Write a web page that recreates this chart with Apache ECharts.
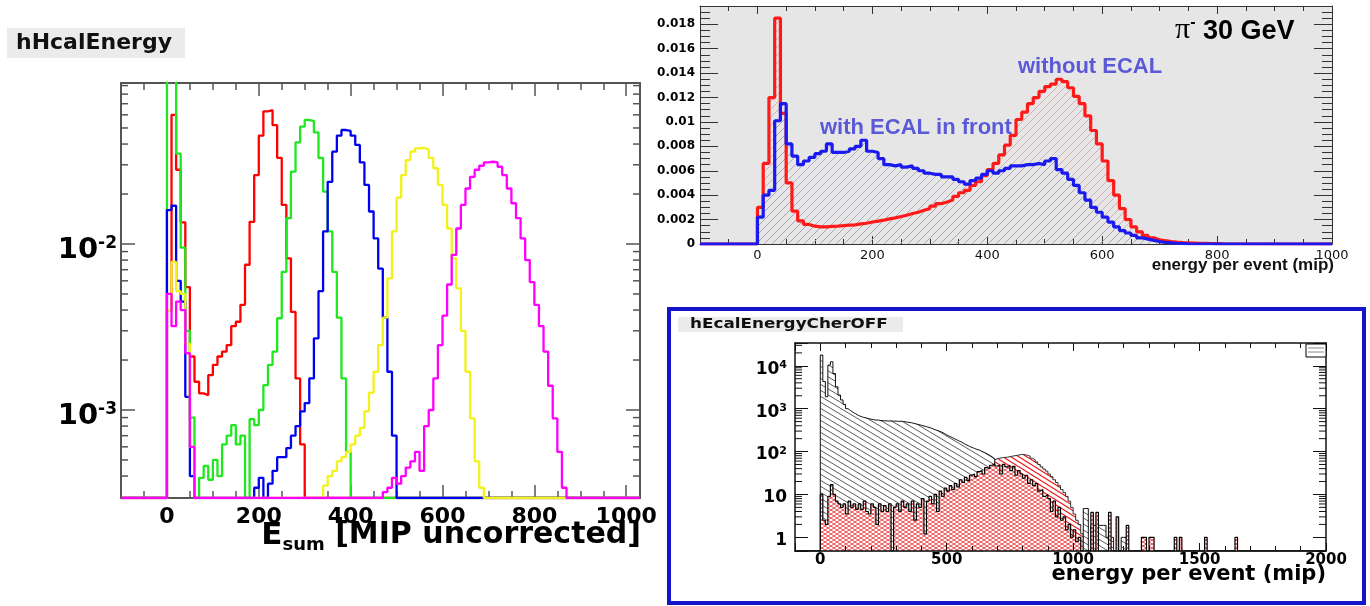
<!DOCTYPE html>
<html>
<head>
<meta charset="utf-8">
<title>HCAL / ECAL energy</title>
<script src="https://cdn.jsdelivr.net/npm/echarts@6.0.0/dist/echarts.min.js"></script>
<style>
  html, body { margin: 0; padding: 0; background: #fff; }
  #main { width: 1370px; height: 606px; }
</style>
</head>
<body>
<div id="main"></div>
<script>
const BIN = 10;

// left: hHcalEnergy, log y, bins of 10 MIP (lower edges)
const hcalRange = [-100, 1030];
const hcalYRange = [2.95e-4, 0.0933];
const hcalRed = [0.004, 0.060, 0.028, 0.0135, 0.0055, 0.0021, 0.00148, 0.00126, 0.00123, 0.00162, 0.00187, 0.0021, 0.00225, 0.00246, 0.0032, 0.0034, 0.0043, 0.0075, 0.0136, 0.026, 0.045, 0.063, 0.064, 0.052, 0.033, 0.0172, 0.0082, 0.0039, 0.00155, 0.00062];
const hcalGreen = [0.1, 0.1, 0.035, 0.0095, 0.003, 0.0009, 0, 0.00039, 0.00046, 0.00038, 0.0005, 0.0004, 0.00062, 0.0007, 0.00081, 0.00062, 0.0007, 0, 0.00088, 0.00081, 0.001, 0.00141, 0.00187, 0.00225, 0.00357, 0.0068, 0.0143, 0.0273, 0.041, 0.051, 0.056, 0.055, 0.047, 0.033, 0.0207, 0.0119, 0.0068, 0.0036, 0.00155, 0.00056];
const hcalBlueLow = [0.016, 0.017, 0.006, 0.0045, 0.0012, 0.0004];
const hcalBluePeakStart = 190;
const hcalBluePeak = [0.00034, 0.00039, 0, 0.00036, 0.00043, 0.00052, 0.00052, 0.00059, 0.0007, 0.0008, 0.00098, 0.0011, 0.00155, 0.0027, 0.0052, 0.0119, 0.0237, 0.036, 0.045, 0.0486, 0.048, 0.045, 0.0395, 0.031, 0.0227, 0.0157, 0.0108, 0.0071, 0.0036, 0.0017, 0.0007];
const hcalYellowLow = [0.004, 0.0078, 0.0052, 0.005, 0.0025, 0.0006];
const hcalYellowPeakStart = 340;
const hcalYellowPeak = [0.00035, 0.0004, 0.00043, 0.00049, 0.00052, 0.00056, 0.00062, 0.0007, 0.00078, 0.00098, 0.00127, 0.0017, 0.00246, 0.0036, 0.0062, 0.0119, 0.019, 0.026, 0.032, 0.036, 0.0377, 0.038, 0.037, 0.033, 0.0286, 0.0227, 0.0172, 0.0124, 0.0082, 0.0054, 0.003, 0.0017, 0.00089, 0.00049, 0.00034];
const hcalMagentaLow = [0.005, 0.0032, 0.0045, 0.004, 0.0022, 0.0006];
const hcalMagentaPeakStart = 470;
const hcalMagentaPeak = [0.00032, 0.00034, 0.00039, 0.00036, 0.0004, 0.00045, 0.00049, 0.00056, 0.00043, 0.0008, 0.001, 0.00155, 0.00246, 0.0037, 0.0057, 0.0086, 0.0124, 0.0172, 0.0216, 0.0254, 0.028, 0.0296, 0.031, 0.0313, 0.031, 0.0292, 0.026, 0.0216, 0.0176, 0.0143, 0.0108, 0.008, 0.0059, 0.0043, 0.0032, 0.00225, 0.0014, 0.00089, 0.00056, 0.00034];
const hcalMinor = [4e-4, 5e-4, 6e-4, 7e-4, 8e-4, 9e-4, 2e-3, 3e-3, 4e-3, 5e-3, 6e-3, 7e-3, 8e-3, 9e-3, 2e-2, 3e-2, 4e-2, 5e-2, 6e-2, 7e-2, 8e-2, 9e-2];

// top right: pi- 30 GeV, linear y, from 0
const pionRange = [-100, 1000];
const pionYRange = [0, 0.0195];
const pionNoEcal = [0.003, 0.0066, 0.012, 0.0185, 0.0107, 0.005, 0.0027, 0.0019, 0.0016, 0.00146, 0.0014, 0.0014, 0.00144, 0.00146, 0.0015, 0.00155, 0.00157, 0.00165, 0.0017, 0.0018, 0.00187, 0.00195, 0.00206, 0.00214, 0.00225, 0.00236, 0.0025, 0.0026, 0.00276, 0.0029, 0.0031, 0.0033, 0.00344, 0.0036, 0.0039, 0.0042, 0.0044, 0.0048, 0.0051, 0.0056, 0.0061, 0.0066, 0.0073, 0.0081, 0.0089, 0.0102, 0.0108, 0.0115, 0.012, 0.0125, 0.0129, 0.0131, 0.0135, 0.0133, 0.0128, 0.0121, 0.0115, 0.0105, 0.0093, 0.0082, 0.0068, 0.0052, 0.004, 0.0029, 0.002, 0.0014, 0.001, 0.0007, 0.0005, 0.00035, 0.00027, 0.0002, 0.00015, 0.00012, 0.0001, 0.00008, 0.00006, 0.00005, 0.00004, 0.00003, 0.00002];
const pionWithEcal = [0.0022, 0.004, 0.0044, 0.0101, 0.0115, 0.0082, 0.0072, 0.0065, 0.0068, 0.0071, 0.0074, 0.0076, 0.0082, 0.0075, 0.0075, 0.0076, 0.0078, 0.008, 0.0085, 0.0076, 0.0075, 0.007, 0.0065, 0.0064, 0.0065, 0.0063, 0.0064, 0.0062, 0.006, 0.0058, 0.0057, 0.0057, 0.0055, 0.0055, 0.0053, 0.0051, 0.0049, 0.0052, 0.0054, 0.0057, 0.006, 0.0058, 0.006, 0.0062, 0.0064, 0.0064, 0.0065, 0.0065, 0.0066, 0.0065, 0.0068, 0.007, 0.0061, 0.0058, 0.0053, 0.0048, 0.0042, 0.0036, 0.003, 0.0026, 0.0022, 0.0018, 0.0014, 0.0011, 0.0009, 0.0007, 0.0005, 0.0004, 0.0003, 0.0002, 0.00014, 0.0001, 0.00006, 0.00004, 0.00002];

// bottom right: hEcalEnergyCherOFF, log y (counts)
const ecalRange = [-100, 2000];
const ecalYRange = [0.48, 34000];
const ecalAll = [17800, 4300, 1900, 10400, 12400, 6600, 3240, 2080, 1600, 1260, 1000, 900, 820, 760, 700, 660, 630, 610, 590, 570, 555, 545, 540, 530, 525, 520, 515, 520, 510, 515, 505, 510, 500, 490, 480, 470, 455, 440, 425, 410, 395, 380, 365, 350, 330, 315, 300, 285, 265, 245, 228, 215, 200, 188, 175, 165, 152, 142, 132, 125, 118, 112, 108, 100, 95, 88, 82, 75, 68];
const ecalAllTail = [[1040, 4.7], [1050, 4.7], [1070, 1.9], [1080, 1.9], [1090, 1.9], [1100, 1.9], [1110, 1.9], [1120, 1.9], [1130, 1], [1140, 1], [1150, 1], [1190, 1], [1200, 1]];
const ecalPeakStart = 650;
const ecalPeak = [50, 55, 60, 64, 68, 70, 72, 73, 74, 76, 78, 80, 82, 84, 86, 84, 82, 78, 70, 64, 57, 50, 44, 39, 35, 30, 26, 22, 19, 16, 13, 11, 9, 7, 5, 3.5, 2.5, 2, 1.2];
const ecalSub = [10, 2.5, 2, 9, 17, 10, 7, 6, 5, 6, 3.5, 7, 5, 6, 4.5, 6, 4.5, 7, 4, 3.5, 6, 5, 2, 6, 4, 5.5, 4, 6, 0, 5, 6, 4, 7, 5, 6, 4, 7, 2.5, 6, 5, 8, 1.2, 7, 9, 6, 10, 4, 12, 9, 14, 12, 16, 13, 18, 15, 22, 19, 25, 21, 28, 30, 26, 34, 36, 30, 42, 40, 48, 52, 46, 48, 30, 50, 44, 48, 36, 45, 28, 36, 30, 24, 28, 18, 22, 16, 18, 12, 13, 9, 10, 8, 4, 7, 3, 5, 2.5, 3, 1.5, 2, 1, 1.5, 0.8, 1];
const ecalSubTail = [[1070, 3.8], [1090, 3.8], [1140, 3.8], [1170, 3], [1210, 1.9], [1270, 1], [1280, 1], [1300, 1], [1310, 1], [1400, 1], [1420, 1], [1520, 1], [1640, 1]];
const ecalMinor = [2, 3, 4, 5, 6, 7, 8, 9, 20, 30, 40, 50, 60, 70, 80, 90, 200, 300, 400, 500, 600, 700, 800, 900, 2000, 3000, 4000, 5000, 6000, 7000, 8000, 9000, 20000, 30000];

const FONT = 'DejaVu Sans';
const ARIAL = 'Liberation Sans';

function bins(start, vals) {
  return vals.map((v, i) => [start + i * BIN, v]);
}

// histogram bins -> step points, empty bins sit on the floor
function steps(list, floor, range) {
  const pts = [[range[0], floor]];
  let end = null;
  list.forEach(([x, v]) => {
    if (end !== null && x > end) pts.push([end, floor]);
    pts.push([x, v > 0 ? v : floor]);
    end = x + BIN;
  });
  pts.push([end, floor], [range[1], floor]);
  return pts;
}

function hatch(w, h, color, lw, dirs, bg) {
  const c = document.createElement('canvas');
  c.width = w; c.height = h;
  const g = c.getContext('2d');
  if (bg) { g.fillStyle = bg; g.fillRect(0, 0, w, h); }
  g.strokeStyle = color;
  g.lineWidth = lw;
  g.beginPath();
  for (let k = -1; k <= 1; k++) {
    if (dirs.indexOf('/') >= 0) { g.moveTo(k * w - w, 2 * h); g.lineTo(k * w + 2 * w, -h); }
    if (dirs.indexOf('\\') >= 0) { g.moveTo(k * w - w, -h); g.lineTo(k * w + 2 * w, 2 * h); }
  }
  g.stroke();
  return { image: c, repeat: 'repeat' };
}

function powLabel(v) {
  const l = Math.log10(v), e = Math.round(l);
  if (Math.abs(l - e) > 1e-6) return '';
  if (e === 0) return '{b|1}';
  if (e === 1) return '{b|10}';
  return '{b|10}{s|' + e + '}';
}

function xAxes(gi, range, c) {
  const out = [];
  ['bottom', 'top'].forEach(pos => {
    const bottom = pos === 'bottom';
    out.push({
      type: 'value', gridIndex: gi, position: pos, min: range[0], max: range[1], splitNumber: c.split, z: c.z || 0,
      axisLine: { show: true, onZero: false, lineStyle: { color: c.color, width: c.width } },
      axisTick: { inside: true, length: c.major, lineStyle: { color: c.color, width: c.tickW } },
      splitLine: { show: false },
      axisLabel: bottom ? Object.assign({ show: true }, c.label) : { show: false }
    });
    out.push({
      type: 'value', gridIndex: gi, position: pos, min: range[0], max: range[1], interval: c.minorStep, z: c.z || 0,
      axisLine: { show: false, onZero: false },
      axisTick: { inside: true, length: c.minor, lineStyle: { color: c.color, width: c.tickW } },
      splitLine: { show: false }, axisLabel: { show: false }
    });
  });
  return out;
}

function logY(gi, range, pos, c, label) {
  return {
    type: 'log', logBase: 10, gridIndex: gi, position: pos, min: range[0], max: range[1], z: c.z || 0,
    axisLine: { show: true, onZero: false, lineStyle: { color: c.color, width: c.width } },
    axisTick: { inside: true, length: c.major, lineStyle: { color: c.color, width: c.tickW } },
    splitLine: { show: false },
    axisLabel: label || { show: false }
  };
}

function minorLog(xi, yi, vals, range, len, color, width) {
  return {
    type: 'custom', xAxisIndex: xi, yAxisIndex: yi, silent: true, z: 6,
    data: vals.map(v => [range[0], v]),
    renderItem: (params, api) => {
      const v = api.value(1);
      const a = api.coord([range[0], v]), b = api.coord([range[1], v]);
      const st = { stroke: color, lineWidth: width };
      return { type: 'group', children: [
        { type: 'line', shape: { x1: a[0], y1: a[1], x2: a[0] + len, y2: a[1] }, style: st },
        { type: 'line', shape: { x1: b[0], y1: b[1], x2: b[0] - len, y2: b[1] }, style: st }
      ] };
    }
  };
}

function histLine(data, color, width, xi, yi, extra) {
  return Object.assign({
    type: 'line', data, step: 'end', symbol: 'none', showSymbol: false, silent: true,
    xAxisIndex: xi, yAxisIndex: yi, clip: true,
    lineStyle: { color, width }, itemStyle: { color }
  }, extra || {});
}

function text(x, y, str, font, color, align, vAlign, scaleX, rich) {
  return {
    type: 'text', x, y, scaleX: scaleX || 1, silent: true, z: 100,
    style: { text: str, x: 0, y: 0, font, fill: color, textAlign: align, textVerticalAlign: vAlign, align, verticalAlign: vAlign, rich }
  };
}

// left panel curves
const hFloor = hcalYRange[0];
const hRed = steps(bins(0, hcalRed), hFloor, hcalRange);
const hGreen = steps(bins(0, hcalGreen), hFloor, hcalRange);
const hBlue = steps(bins(0, hcalBlueLow).concat(bins(hcalBluePeakStart, hcalBluePeak)), hFloor, hcalRange);
const hYellow = steps(bins(0, hcalYellowLow).concat(bins(hcalYellowPeakStart, hcalYellowPeak)), hFloor, hcalRange);
const hMagenta = steps(bins(0, hcalMagentaLow).concat(bins(hcalMagentaPeakStart, hcalMagentaPeak)), hFloor, hcalRange);

// top right
const pRed = steps(bins(0, pionNoEcal), 0, pionRange);
const pBlue = steps(bins(0, pionWithEcal), 0, pionRange);

// bottom right
const eFloor = ecalYRange[0];
const eAll = steps(bins(0, ecalAll).concat(ecalAllTail), eFloor, ecalRange);
const ePeak = steps(bins(ecalPeakStart, ecalPeak), eFloor, ecalRange);
const eSub = steps(bins(0, ecalSub).concat(ecalSubTail), eFloor, ecalRange);

const L = { color: '#555', width: 2, tickW: 1.5, major: 13, minor: 7, split: 5, minorStep: 50,
  label: { margin: 8, color: '#000', fontFamily: FONT, fontWeight: 'bold', fontSize: 22,
    formatter: v => (v % 200 === 0 ? String(v) : '') } };
const LY = { color: '#555', width: 2, tickW: 1.5, major: 14 };
const T = { color: '#333', width: 1, tickW: 1, major: 8, minor: 5, split: 5, minorStep: 50,
  label: { margin: 5, color: '#111', fontFamily: FONT, fontSize: 13,
    formatter: v => (v % 200 === 0 ? String(v) : '') } };
const B = { color: '#111', width: 1.5, tickW: 1, major: 8, minor: 5, split: 4, minorStep: 100, z: 8,
  label: { margin: 2, color: '#000', fontFamily: FONT, fontWeight: 'bold', fontSize: 15,
    formatter: v => (v % 500 === 0 ? String(v) : '') } };
const BY = { color: '#111', width: 1.5, tickW: 1, major: 13, z: 8 };

function tyAxis(pos, interval, len, labels) {
  return {
    type: 'value', gridIndex: 1, position: pos, min: pionYRange[0], max: pionYRange[1], interval,
    axisLine: { show: labels !== null, onZero: false, lineStyle: { color: '#333', width: 1 } },
    axisTick: { inside: true, length: len, lineStyle: { color: '#333', width: 1 } },
    splitLine: { show: false },
    axisLabel: labels || { show: false }
  };
}

const tyLabel = { margin: 5, color: '#000', fontFamily: FONT, fontWeight: 'bold', fontSize: 12,
  formatter: v => { const k = v / 0.002; return Math.abs(k - Math.round(k)) < 1e-6 ? String(+v.toFixed(3)) : ''; } };

const chart = echarts.init(document.getElementById('main'));
chart.setOption({
  animation: false,
  backgroundColor: '#fff',
  grid: [
    { left: 121, top: 83, width: 519, height: 415 },
    { left: 700, top: 6, width: 632, height: 238, show: true, backgroundColor: '#e6e6e6', borderWidth: 0 },
    { left: 795, top: 343, width: 531, height: 208 }
  ],
  xAxis: [].concat(xAxes(0, hcalRange, L), xAxes(1, pionRange, T), xAxes(2, ecalRange, B)),
  yAxis: [
    logY(0, hcalYRange, 'left', LY, {
      margin: 4, formatter: powLabel, padding: [12, 0, 0, 0],
      rich: {
        b: { fontFamily: FONT, fontWeight: 'bold', fontSize: 29, color: '#000', lineHeight: 30, verticalAlign: 'bottom' },
        s: { fontFamily: FONT, fontWeight: 'bold', fontSize: 17, color: '#000', lineHeight: 16, verticalAlign: 'top' }
      }
    }),
    logY(0, hcalYRange, 'right', LY),
    tyAxis('left', 0.002, 18, tyLabel),
    tyAxis('left', 0.0005, 10, null),
    tyAxis('right', 0.002, 18, { show: false }),
    tyAxis('right', 0.0005, 10, null),
    logY(2, ecalYRange, 'left', BY, {
      margin: 8, formatter: powLabel, padding: [6, 0, 0, 0],
      rich: {
        b: { fontFamily: FONT, fontWeight: 'bold', fontSize: 17, color: '#000', lineHeight: 18, verticalAlign: 'bottom' },
        s: { fontFamily: FONT, fontWeight: 'bold', fontSize: 11, color: '#000', lineHeight: 11, verticalAlign: 'top' }
      }
    }),
    logY(2, ecalYRange, 'right', BY)
  ],
  series: [
    // left
    histLine(hRed, '#ff0000', 2.3, 0, 0),
    histLine(hGreen, '#1fe81f', 2.3, 0, 0),
    histLine(hBlue, '#0000f0', 2.3, 0, 0),
    histLine(hYellow, '#f2f21a', 2.3, 0, 0),
    histLine(hMagenta, '#ff00ff', 2.3, 0, 0),
    minorLog(0, 0, hcalMinor, hcalRange, 7, '#555', 1.5),
    // top right: hatched areas then outlines
    histLine(pRed, '#ff1a1a', 0, 4, 2, { areaStyle: { color: hatch(8, 8, 'rgba(205,165,170,0.85)', 1, '/'), opacity: 1, origin: 'start' } }),
    histLine(pBlue, '#1a1aff', 0, 4, 2, { areaStyle: { color: hatch(8, 8, 'rgba(160,160,178,0.8)', 1, '/'), opacity: 1, origin: 'start' } }),
    histLine(pRed, '#ff1a1a', 3.2, 4, 2, { z: 3 }),
    histLine(pBlue, '#1a1af0', 3.2, 4, 2, { z: 4 }),
    // bottom right: each histogram on its own layer so later fills hide earlier outlines
    histLine(ePeak, '#333', 1, 8, 6, { z: 2, areaStyle: { color: hatch(8, 5, '#ee1c1c', 1.1, '\\', '#fff'), opacity: 1, origin: 'start' } }),
    histLine(eAll, '#111', 1, 8, 6, { z: 3, areaStyle: { color: hatch(10, 6, '#333', 0.8, '\\', '#fff'), opacity: 1, origin: 'start' } }),
    histLine(eSub, '#000', 1.2, 8, 6, { z: 4, areaStyle: { color: hatch(6, 4, '#e83a3a', 0.9, '/\\', '#fff'), opacity: 1, origin: 'start' } }),
    minorLog(8, 6, ecalMinor, ecalRange, 7, '#111', 1)
  ],
  graphic: [
    // left panel title and axis title
    { type: 'rect', shape: { x: 7, y: 28, width: 178, height: 30 }, style: { fill: '#ebebeb' }, silent: true },
    text(16, 43, 'hHcalEnergy', 'bold 22px "DejaVu Sans"', '#111', 'left', 'middle'),
    text(641, 537, '{e|E}{u|sum}{t| [MIP uncorrected]}', 'bold 30px "DejaVu Sans"', '#000', 'right', 'middle', 1, {
      e: { fontFamily: FONT, fontWeight: 'bold', fontSize: 31, lineHeight: 34, verticalAlign: 'top' },
      u: { fontFamily: FONT, fontWeight: 'bold', fontSize: 18, lineHeight: 18, verticalAlign: 'bottom' },
      t: { fontFamily: FONT, fontWeight: 'bold', fontSize: 30, lineHeight: 34, verticalAlign: 'top' }
    }),
    // top right annotations
    text(1175, 30, '{p|π}{m|-}{g| 30 GeV}', 'bold 26px "Liberation Sans"', '#000', 'left', 'middle', 1, {
      p: { fontFamily: 'Liberation Serif', fontSize: 30, lineHeight: 30, verticalAlign: 'bottom', color: '#000' },
      m: { fontFamily: ARIAL, fontWeight: 'bold', fontSize: 16, lineHeight: 14, verticalAlign: 'top', color: '#000' },
      g: { fontFamily: ARIAL, fontWeight: 'bold', fontSize: 27, lineHeight: 30, verticalAlign: 'bottom', color: '#000' }
    }),
    text(1018, 67, 'without ECAL', 'bold 22px "Liberation Sans"', '#5a5ad8', 'left', 'middle'),
    text(820, 128, 'with ECAL in front', 'bold 22px "Liberation Sans"', '#5a5ad8', 'left', 'middle'),
    text(1334, 265, 'energy per event (mip)', 'bold 17px "Liberation Sans"', '#111', 'right', 'middle'),
    // bottom right frame, title, stats box, axis title
    { type: 'rect', shape: { x: 669, y: 309, width: 695, height: 294 }, style: { fill: null, stroke: '#1414c8', lineWidth: 4 }, silent: true },
    { type: 'rect', shape: { x: 678, y: 317, width: 225, height: 15 }, style: { fill: '#ebebeb' }, silent: true },
    text(690, 324.5, 'hEcalEnergyCherOFF', 'bold 14px "DejaVu Sans"', '#111', 'left', 'middle', 1.2),
    { type: 'rect', z: 100, shape: { x: 1306, y: 344, width: 20, height: 13 }, style: { fill: '#fff', stroke: '#000', lineWidth: 1 }, silent: true },
    { type: 'line', z: 101, shape: { x1: 1308, y1: 348, x2: 1324, y2: 348 }, style: { stroke: '#888', lineWidth: 1 }, silent: true },
    { type: 'line', z: 101, shape: { x1: 1308, y1: 352, x2: 1324, y2: 352 }, style: { stroke: '#888', lineWidth: 1 }, silent: true },
    text(1326, 575, 'energy per event (mip)', 'bold 21px "DejaVu Sans"', '#000', 'right', 'middle')
  ]
});
</script>
</body>
</html>
